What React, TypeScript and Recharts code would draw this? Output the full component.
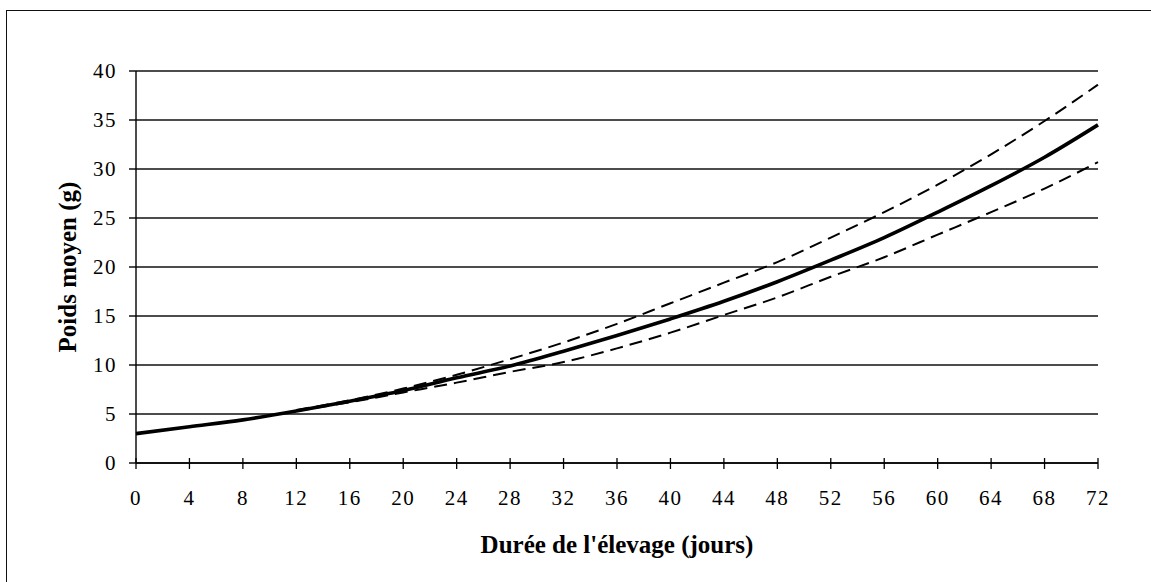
import { LineChart, Line, XAxis, YAxis, CartesianGrid, Label } from "recharts";

// durée de l'élevage (jours)
const days = [0, 4, 8, 12, 16, 20, 24, 28, 32, 36, 40, 44, 48, 52, 56, 60, 64, 68, 72];

// poids moyen (g) - courbe centrale
const meanWeight = [3.0, 3.7, 4.4, 5.3, 6.3, 7.4, 8.7, 9.9, 11.4, 13.0, 14.7, 16.5, 18.5, 20.7, 23.0, 25.6, 28.3, 31.2, 34.5];

// bornes (pointillés), démarrent à 12 jours
const upperBound = [null, null, null, 5.4, 6.4, 7.6, 9.0, 10.6, 12.3, 14.2, 16.3, 18.4, 20.5, 23.0, 25.6, 28.4, 31.5, 34.9, 38.6];
const lowerBound = [null, null, null, 5.3, 6.2, 7.2, 8.2, 9.3, 10.3, 11.7, 13.3, 15.1, 16.9, 19.0, 21.0, 23.3, 25.6, 28.0, 30.7];

const xTicks = [0, 4, 8, 12, 16, 20, 24, 28, 32, 36, 40, 44, 48, 52, 56, 60, 64, 68, 72];
const yTicks = [0, 5, 10, 15, 20, 25, 30, 35, 40];

const data = days.map((d, i) => ({
  day: d,
  mean: meanWeight[i],
  upper: upperBound[i],
  lower: lowerBound[i],
}));

const FONT = "'Liberation Serif', 'Times New Roman', serif";
const TICK_SIZE = 5;
const TICK_MARGIN = 22;

// x ticks: small cross marks above and below the axis
const XTick = (props: any) => {
  const { x, y, payload } = props;
  const axisY = y - TICK_MARGIN - TICK_SIZE;
  return (
    <g>
      <line x1={x} x2={x} y1={axisY - 5} y2={axisY + 6} stroke="#000" strokeWidth={1.3} />
      <text x={x} y={axisY + 42} textAnchor="middle" fontFamily={FONT} fontSize={21} fill="#000" letterSpacing={1.5}>
        {payload.value}
      </text>
    </g>
  );
};

export default function App() {
  return (
    <div style={{ position: "absolute", left: 0, top: 0, width: 1151, height: 582, overflow: "hidden", background: "#fff" }}>
      {/* cadre */}
      <div style={{ position: "absolute", left: 6, top: 10, width: 1200, height: 600, borderLeft: "1.5px solid #111", borderTop: "1.5px solid #111" }} />
      <div style={{ position: "absolute", left: 0, top: 0 }}>
        <LineChart
          width={1151}
          height={582}
          data={data}
          margin={{ top: 71, right: 53, bottom: 19, left: 0 }}
        >
          <CartesianGrid vertical={false} stroke="#111" strokeWidth={1.4} />
          <XAxis
            dataKey="day"
            type="number"
            domain={[0, 72]}
            ticks={xTicks}
            interval={0}
            height={100}
            stroke="#000"
            strokeWidth={1.4}
            tickLine={false}
            tickSize={TICK_SIZE}
            tickMargin={TICK_MARGIN}
            tick={<XTick />}
          >
            <Label
              content={(p: any) => {
                const vb = p.viewBox;
                return (
                  <text x={vb.x + vb.width / 2} y={vb.y + 90} textAnchor="middle" fontFamily={FONT} fontWeight="bold" fontSize={25} fill="#000">
                    Durée de l'élevage (jours)
                  </text>
                );
              }}
            />
          </XAxis>
          <YAxis
            type="number"
            domain={[0, 40]}
            ticks={yTicks}
            interval={0}
            width={136}
            stroke="#000"
            strokeWidth={1.4}
            tickSize={7}
            tickMargin={12}
            tick={{ fontFamily: FONT, fontSize: 21, fill: "#000", letterSpacing: 1.5 }}
          >
            <Label
              content={(p: any) => {
                const vb = p.viewBox;
                const cx = vb.x + 76;
                const cy = vb.y + vb.height / 2;
                return (
                  <text x={cx} y={cy} transform={`rotate(-90 ${cx} ${cy})`} textAnchor="middle" fontFamily={FONT} fontWeight="bold" fontSize={25} fill="#000">
                    Poids moyen (g)
                  </text>
                );
              }}
            />
          </YAxis>
          <Line dataKey="upper" type="monotone" stroke="#000" strokeWidth={2} strokeDasharray="13 7" dot={false} isAnimationActive={false} />
          <Line dataKey="lower" type="monotone" stroke="#000" strokeWidth={2} strokeDasharray="13 7" dot={false} isAnimationActive={false} />
          <Line dataKey="mean" type="monotone" stroke="#000" strokeWidth={3.6} dot={false} isAnimationActive={false} />
        </LineChart>
      </div>
    </div>
  );
}
